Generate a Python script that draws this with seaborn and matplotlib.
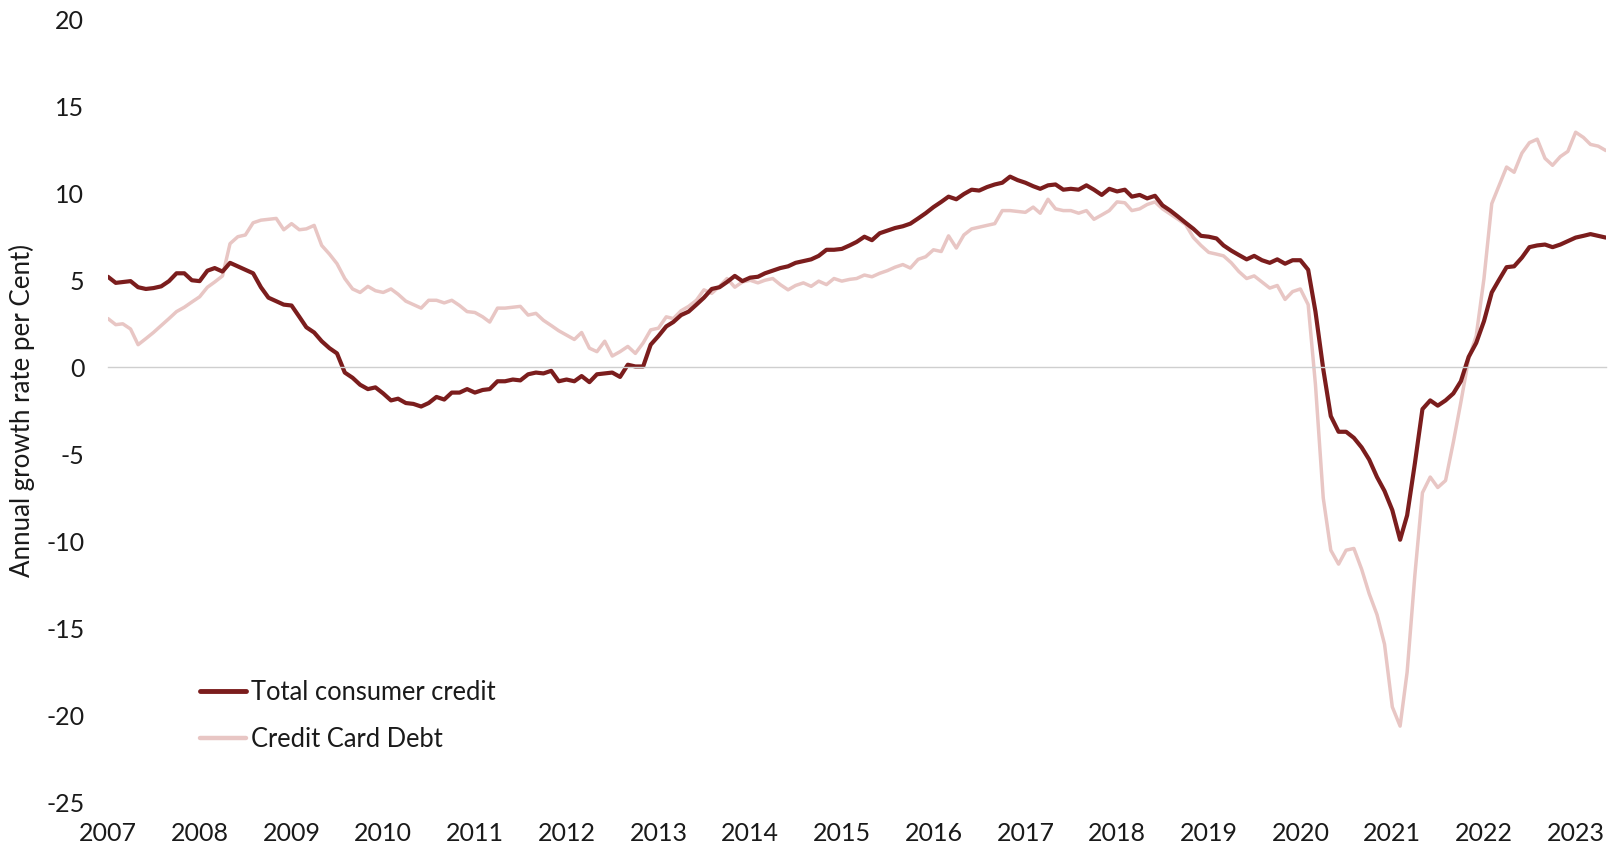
import numpy as np
import pandas as pd
import matplotlib
matplotlib.use("Agg")
import matplotlib.pyplot as plt
import matplotlib.dates as mdates
import seaborn as sns

# Annual growth rate (%), monthly from January 2007
total_consumer_credit = [
    # 2007
    5.2, 4.85, 4.9, 4.95, 4.6, 4.5, 4.55, 4.65, 4.95, 5.4, 5.4, 5.0,
    # 2008
    4.95, 5.55, 5.7, 5.5, 6.0, 5.8, 5.6, 5.4, 4.6, 4.0, 3.8, 3.6,
    # 2009
    3.55, 2.9, 2.3, 2.0, 1.5, 1.1, 0.8, -0.3, -0.6, -1.0, -1.25, -1.15,
    # 2010
    -1.5, -1.9, -1.8, -2.05, -2.1, -2.25, -2.05, -1.7, -1.85, -1.45, -1.45, -1.25,
    # 2011
    -1.45, -1.3, -1.25, -0.8, -0.8, -0.7, -0.75, -0.4, -0.3, -0.35, -0.2, -0.8,
    # 2012
    -0.7, -0.8, -0.5, -0.85, -0.4, -0.35, -0.3, -0.55, 0.15, 0.05, 0.05, 1.3,
    # 2013
    1.8, 2.35, 2.6, 3.0, 3.2, 3.6, 4.0, 4.5, 4.6, 4.9, 5.25, 4.95,
    # 2014
    5.15, 5.2, 5.4, 5.55, 5.7, 5.8, 6.0, 6.1, 6.2, 6.4, 6.75, 6.75,
    # 2015
    6.8, 7.0, 7.2, 7.5, 7.3, 7.7, 7.85, 8.0, 8.1, 8.25, 8.55, 8.85,
    # 2016
    9.2, 9.5, 9.8, 9.65, 9.95, 10.2, 10.15, 10.35, 10.5, 10.6, 10.95, 10.75,
    # 2017
    10.6, 10.4, 10.25, 10.45, 10.5, 10.2, 10.25, 10.2, 10.45, 10.2, 9.9, 10.25,
    # 2018
    10.1, 10.2, 9.8, 9.9, 9.7, 9.85, 9.3, 9.0, 8.65, 8.3, 7.95, 7.55,
    # 2019
    7.5, 7.4, 7.0, 6.7, 6.45, 6.2, 6.4, 6.15, 6.0, 6.2, 5.95, 6.15,
    # 2020
    6.15, 5.6, 3.2, -0.1, -2.8, -3.7, -3.7, -4.05, -4.6, -5.3, -6.3, -7.1,
    # 2021
    -8.2, -9.9, -8.5, -5.5, -2.4, -1.9, -2.2, -1.9, -1.5, -0.8, 0.6, 1.4,
    # 2022
    2.65, 4.3, 5.0, 5.75, 5.8, 6.3, 6.9, 7.0, 7.05, 6.9, 7.05, 7.25,
    # 2023
    7.45, 7.55, 7.65, 7.55, 7.45,
]

credit_card_debt = [
    # 2007
    2.8, 2.45, 2.5, 2.2, 1.3, 1.65, 2.0, 2.4, 2.8, 3.2, 3.45, 3.75,
    # 2008
    4.05, 4.6, 4.9, 5.25, 7.1, 7.5, 7.6, 8.3, 8.45, 8.5, 8.55, 7.9,
    # 2009
    8.25, 7.9, 7.95, 8.15, 7.0, 6.5, 5.95, 5.1, 4.5, 4.3, 4.65, 4.4,
    # 2010
    4.3, 4.5, 4.2, 3.8, 3.6, 3.4, 3.85, 3.85, 3.7, 3.85, 3.55, 3.2,
    # 2011
    3.15, 2.9, 2.6, 3.4, 3.4, 3.45, 3.5, 3.0, 3.1, 2.7, 2.4, 2.1,
    # 2012
    1.85, 1.6, 2.0, 1.1, 0.9, 1.5, 0.65, 0.9, 1.2, 0.8, 1.4, 2.15,
    # 2013
    2.25, 2.9, 2.8, 3.25, 3.5, 3.85, 4.45, 4.25, 4.65, 5.1, 4.6, 4.9,
    # 2014
    5.0, 4.85, 5.0, 5.1, 4.75, 4.45, 4.7, 4.85, 4.65, 4.95, 4.75, 5.1,
    # 2015
    4.95, 5.05, 5.1, 5.3, 5.2, 5.4, 5.55, 5.75, 5.9, 5.7, 6.2, 6.35,
    # 2016
    6.75, 6.65, 7.55, 6.85, 7.6, 7.95, 8.05, 8.15, 8.25, 9.0, 9.0, 8.95,
    # 2017
    8.9, 9.2, 8.85, 9.65, 9.1, 9.0, 9.0, 8.85, 9.0, 8.5, 8.75, 9.0,
    # 2018
    9.5, 9.45, 9.0, 9.1, 9.35, 9.5, 9.1, 8.8, 8.5, 8.2, 7.45, 7.0,
    # 2019
    6.6, 6.5, 6.4, 6.0, 5.5, 5.1, 5.25, 4.9, 4.55, 4.7, 3.9, 4.35,
    # 2020
    4.5, 3.6, -1.0, -7.5, -10.5, -11.3, -10.5, -10.4, -11.6, -13.0, -14.2, -15.9,
    # 2021
    -19.5, -20.6, -17.5, -11.9, -7.2, -6.3, -6.9, -6.5, -4.3, -2.0, 0.5, 1.8,
    # 2022
    5.1, 9.4, 10.4, 11.5, 11.2, 12.3, 12.9, 13.1, 12.0, 11.6, 12.1, 12.4,
    # 2023
    13.5, 13.2, 12.8, 12.7, 12.45,
]

series_names = ["Total consumer credit", "Credit Card Debt"]
series_colors = ["#7b1d1d", "#e8c6c4"]
y_ticks = [-25, -20, -15, -10, -5, 0, 5, 10, 15, 20]
y_label = "Annual growth rate per Cent)"

months = pd.date_range("2007-01-01", periods=len(total_consumer_credit), freq="MS")
df = pd.DataFrame({
    "date": months,
    series_names[0]: total_consumer_credit,
    series_names[1]: credit_card_debt,
})

sns.set_theme(style="white")
plt.rcParams["font.family"] = ["Lato", "DejaVu Sans"]
plt.rcParams["text.color"] = "#1a1a1a"

fig = plt.figure(figsize=(16.09, 8.49), dpi=100)
ax = fig.add_axes([0.0671, 0.0545, 0.9309, 0.9231])

# light series underneath, dark series on top
sns.lineplot(data=df, x="date", y=series_names[1], ax=ax, color=series_colors[1],
             linewidth=2.5, label=series_names[1])
sns.lineplot(data=df, x="date", y=series_names[0], ax=ax, color=series_colors[0],
             linewidth=3.0, label=series_names[0])

ax.set_xlim(months[0], months[-1])
ax.set_ylim(-25, 20)
ax.set_yticks(y_ticks)
ax.set_yticklabels([str(v) for v in y_ticks])
ax.tick_params(axis="y", length=0, pad=17, labelsize=18, labelcolor="#1a1a1a")

# x-axis drawn through zero with small year ticks
for side in ["left", "right", "top"]:
    ax.spines[side].set_visible(False)
ax.spines["bottom"].set_position(("data", 0))
ax.spines["bottom"].set_color("#cfcfcf")
ax.spines["bottom"].set_linewidth(1.0)
ax.xaxis.set_major_locator(mdates.YearLocator())
ax.tick_params(axis="x", direction="out", length=6, width=1.0, color="#cfcfcf",
               labelbottom=False)
ax.set_xlabel("")

# year labels along the bottom of the plot area
sec = ax.secondary_xaxis(0)
sec.xaxis.set_major_locator(mdates.YearLocator())
sec.xaxis.set_major_formatter(mdates.DateFormatter("%Y"))
sec.spines["bottom"].set_visible(False)
sec.tick_params(axis="x", length=0, pad=14, labelsize=18, labelcolor="#1a1a1a")

ax.set_ylabel(y_label, fontsize=18.6, color="#1a1a1a")
ax.yaxis.set_label_coords(-0.049, 0.5)

handles, labels = ax.get_legend_handles_labels()
order = [labels.index(n) for n in series_names]
leg = ax.legend([handles[i] for i in order], [labels[i] for i in order],
                loc="center left", bbox_to_anchor=(0.0614, 0.1106),
                frameon=False, fontsize=18.4, handlelength=1.8, handletextpad=0.2,
                labelspacing=0.85, borderpad=0, borderaxespad=0)
leg.get_lines()[0].set_linewidth(3.5)
leg.get_lines()[1].set_linewidth(3.2)

fig.savefig("out.png", dpi=100)
